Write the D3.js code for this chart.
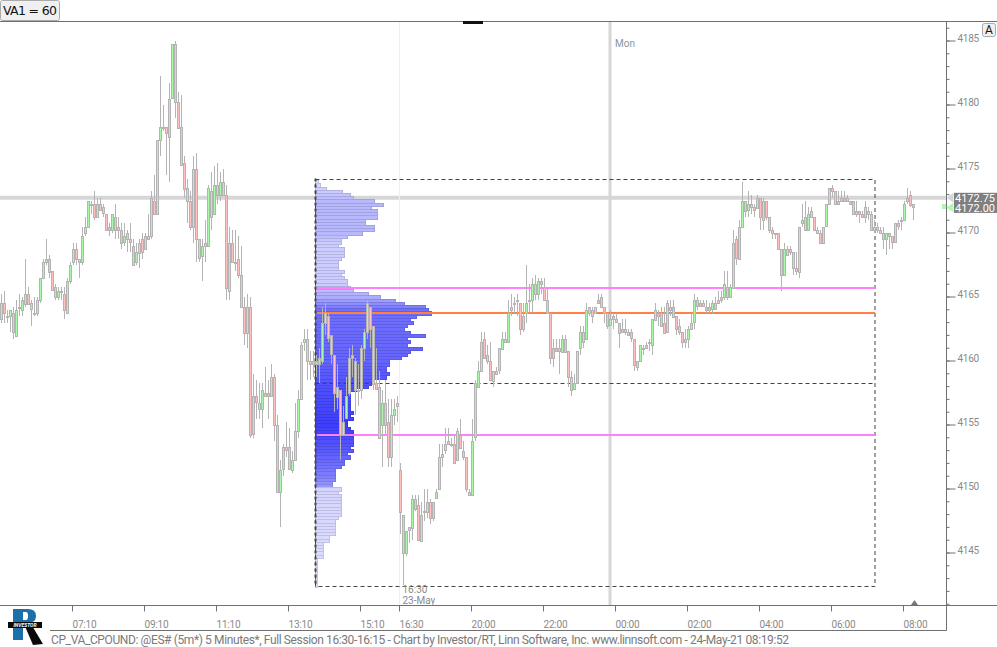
<!DOCTYPE html>
<html>
<head>
<meta charset="utf-8">
<title>CP_VA_CPOUND</title>
<script src="https://cdn.jsdelivr.net/npm/d3@7"></script>
<style>
  html, body { margin: 0; padding: 0; background: #fff; overflow: hidden; }
  text { font-family: Roboto, "Liberation Sans", sans-serif; }
</style>
</head>
<body>
<div id="chart"></div>
<script>
// 5 minute candles: [open, high, low, close]
const bars0510 = [
  [4163.25,4165.25,4163,4164.5],[4164.5,4165.5,4163,4163.75],[4163.5,4164,4163,4163.5],[4163.5,4164,4162.25,4164],
  [4163.75,4164.25,4161.75,4162.25],[4162,4164.75,4162,4164],[4164.25,4165.25,4163.5,4164.25],[4164,4165,4163.5,4164.75],
  [4164.5,4168,4164.25,4165.25],[4165.25,4165.75,4164.5,4164.5],[4164.5,4164.75,4162.75,4164],[4163.75,4165,4163.5,4163.75],
  [4163.75,4165,4163.5,4164.75],[4164.75,4166.5,4164.5,4166.5],[4166.5,4168,4166.5,4167.75],[4167.75,4169.5,4167.5,4168],
  [4168,4168.25,4166.5,4167],[4167,4167,4165.5,4165.5],[4165.75,4166,4164.75,4165],[4165,4165.75,4164.75,4165.5],
  [4165.5,4165.75,4164.75,4165.5],[4165.25,4165.75,4163.25,4164],[4163.75,4166.5,4163.75,4166.25],[4166.25,4167.75,4166,4167.5]
]
const bars0710 = [
  [4167.75,4169.25,4167.5,4168.75],[4168.75,4169.25,4167.5,4168],[4168,4168,4166.5,4167.75],[4167.75,4170.5,4167.5,4169.75],
  [4170,4171.25,4169.75,4170.5],[4170.5,4172.5,4170.5,4172.5],[4172.25,4172.5,4171.5,4172.25],[4172.25,4173.25,4171,4171.25],
  [4171.25,4172.75,4171.25,4172.25],[4172.25,4172.75,4171.75,4171.75],[4172,4172.25,4171.25,4171.5],[4171.5,4171.5,4170.25,4170.25],
  [4170.5,4170.75,4169.75,4170.25],[4170.25,4171.5,4170,4171.5],[4171.25,4172.25,4169.5,4170.25],[4170.5,4171.25,4169.5,4170.25],
  [4170.25,4170.75,4168.75,4169.25],[4169.25,4170.75,4169,4169.75],[4170,4170.25,4168.5,4169.5],[4169.5,4170.75,4168.5,4169.25],
  [4169,4169.5,4167.5,4167.5],[4167.75,4169.25,4167.5,4168.5],[4168.5,4169.5,4167.25,4169.25],[4169.5,4170,4168,4168.5]
]
const bars0910 = [
  [4168.75,4170,4168.75,4169.75],[4169.75,4171.5,4169.5,4169.5],[4169.75,4173.25,4169.5,4172.75],[4172.5,4174.5,4171.5,4171.5],
  [4171.5,4177.25,4171.5,4177.25],[4177.25,4182.25,4176,4178.25],[4178.25,4180,4178,4178.25],[4178.25,4178.25,4174.5,4177.75],
  [4177.5,4181.75,4174,4180.5],[4180.5,4184.75,4180.5,4184.75],[4184.75,4185,4179,4180.25],[4180.25,4181,4178.25,4178.25],
  [4178.25,4180.75,4175.25,4175.25],[4175.5,4176,4172.75,4173.5],[4173.5,4174.25,4170.75,4172.5],[4172.5,4173.25,4170.25,4170.5],
  [4170.5,4176,4169.25,4175],[4175,4176.25,4167.75,4169.5],[4169.5,4169.5,4167.75,4168],[4168.25,4169.5,4166.25,4169],
  [4169.25,4171,4167.75,4169],[4169,4173.75,4169,4173.5],[4173.25,4174.75,4170.25,4171.25],[4171.5,4175.25,4171.5,4173.75]
]
const bars1110 = [
  [4173.75,4175.5,4172.25,4173],[4173,4174.75,4172.5,4174],[4173,4175,4173,4174],[4173,4173.75,4164.75,4165.75],
  [4165.5,4170.5,4164.75,4169.25],[4169.25,4170.25,4167.75,4167.75],[4167.75,4170.25,4167,4167.75],[4168,4169.75,4166.5,4166.75],
  [4166.75,4169,4164.25,4164.25],[4164.25,4165,4161.25,4162.25],[4162.25,4165.25,4161,4164.25],[4164.25,4165,4154,4154.25],
  [4154.25,4159,4154,4157.25],[4157.25,4158.5,4155.5,4156.75],[4156.75,4158.25,4155.5,4156.25],[4156.25,4158.25,4154.75,4157.75],
  [4157.5,4159.5,4157.25,4157.25],[4157.5,4158.5,4155.5,4157.25],[4157.25,4159.75,4157.25,4158.75],[4158.75,4159,4153.75,4155],
  [4155,4155.75,4149.75,4149.75],[4149.75,4152.25,4147,4151.5],[4151.5,4153.5,4151,4153.25],[4153.25,4155.25,4152.5,4153]
]
const bars1310 = [
  [4153.25,4154.75,4151.5,4151.5],[4151.5,4153,4151.25,4152.25],[4152.25,4156.75,4152.25,4154.5],[4154.5,4157.75,4154,4157],
  [4157,4161.5,4157,4161.25],[4161.5,4162.5,4160.75,4161.75],[4161.75,4162.5,4158.5,4160],[4160,4160.75,4158.5,4159.75],
  [4160,4160.75,4158.75,4159.75],[4159.75,4160.5,4158.75,4160],[4160.25,4161,4158.25,4159.75],[4160,4164.25,4159.75,4163],
  [4163,4164.5,4162,4163.75],[4163.5,4163.75,4161.5,4161.75],[4162,4162,4159.75,4160.5],[4160.5,4160.5,4156,4157.5],
  [4157.25,4159.75,4156.25,4158],[4157.75,4157.75,4152.25,4154.25],[4154.25,4156.5,4154.25,4155.25],[4155.5,4158.75,4155.5,4157.25],
  [4157.5,4161,4157.25,4160.25],[4160.5,4161.25,4158.75,4160.25],[4160,4160.25,4155.75,4157.75],[4157.75,4159.75,4156.5,4157.75]
]
const bars1510 = [
  [4157.75,4161.25,4157,4161],[4161,4162.5,4160,4162.25],[4162.25,4164.75,4161.75,4164.5],[4164.25,4164.25,4161,4162.5],
  [4162.75,4162.75,4157.75,4158.25],[4158.25,4161,4157.75,4157.75],[4158,4159.25,4154,4154],[4155,4157.75,4151.75,4156.75],
  [4156.75,4158.5,4154.25,4155],[4155.25,4157,4151.75,4152.5],[4152.5,4157,4151.75,4155.75],[4155.75,4157,4155,4156.25],
  [4156.5,4157.25,4155.25,4156.75]
]
const bars1630 = [
  [4151.5,4152,4146.5,4148.25],[4148,4148,4142.5,4145],[4145,4146.75,4144.75,4146.75],[4147,4147,4145.75,4146.75],
  [4147,4149.5,4146,4149.25],[4149.25,4149.5,4148.25,4148.5],[4148.75,4149.5,4146,4146],[4146,4149,4146,4148],
  [4148.25,4150,4147.5,4148.25],[4148.25,4150,4147.75,4149],[4149,4149.25,4147.25,4147.75],[4149,4149,4147.5,4147.75],
  [4149.25,4150,4149.25,4149.75],[4150,4153.5,4150,4152.5],[4152.75,4153.5,4151.75,4152.5],[4153,4154.75,4152.75,4153.5],
  [4153.75,4154.75,4153.5,4153.5],[4153.5,4154,4153.25,4153.5],[4153.5,4154.25,4152,4152],[4152.25,4154.75,4152.25,4154.5],
  [4154.25,4155.5,4153.25,4153.25],[4153,4153.75,4152.25,4152.5],[4152.5,4152.5,4149.75,4150],[4149.75,4150,4149.5,4149.5]
]
const bars2000 = [
  [4149.5,4155.5,4149.5,4153.75],[4154,4158.5,4153.75,4158.25],[4158,4160,4158,4159.25],[4159.25,4162.25,4159.25,4161.5],
  [4161.75,4162.25,4160.25,4160.25],[4160.5,4161.25,4159.75,4160],[4160,4161.5,4158.5,4158.5],[4158.5,4159.25,4158,4159.25],
  [4159.25,4159.5,4159,4159],[4159.25,4161,4159,4161],[4161,4162.25,4161,4161.75],[4161.5,4162.25,4161.5,4161.75],
  [4161.5,4164.75,4161.5,4163.75],[4164.25,4165.25,4163.5,4164],[4164.5,4165,4163.75,4164.5],[4164.75,4165.25,4163.5,4164.75],
  [4164.5,4164.5,4162,4162.5],[4162.5,4164.5,4162.25,4163.5],[4163.75,4167.5,4163,4164.5],[4164.75,4166,4163.75,4164.75],
  [4164.75,4166.5,4163.75,4166],[4166,4166.75,4164.75,4165.25],[4165.25,4166.5,4164.75,4166.25],[4166.25,4166.5,4165.25,4166]
]
const bars2200 = [
  [4165.75,4166.5,4164.75,4164.75],[4164.75,4165.75,4163.75,4163.75],[4163.75,4163.75,4159.75,4160.25],[4160.25,4161.75,4159.5,4161],
  [4161,4161.75,4160.75,4160.75],[4160.75,4161.75,4159,4161],[4160.75,4162,4160.75,4161.75],[4161.75,4162,4160.75,4160.75],
  [4160.75,4160.75,4158,4158.75],[4158.75,4159.25,4157.25,4157.75],[4157.75,4159,4157.75,4158.25],[4158.25,4160.75,4158.25,4160.75],
  [4161,4162.75,4160.5,4162.25],[4162.25,4162.75,4161,4161.5],[4161.75,4164.5,4161.75,4164],[4164.25,4164.25,4163.5,4163.75],
  [4164,4164.25,4163,4163.5],[4163.75,4164.25,4163.75,4164.25],[4164.75,4165.25,4164.5,4164.5],[4165,4165.25,4164.25,4164.25],
  [4164.25,4164.25,4163,4163.75],[4163.75,4163.75,4162.5,4162.75],[4162.75,4164,4162.75,4163.25],[4163.5,4163.75,4162.5,4163.25]
]
const bars0000 = [
  [4163.25,4163.75,4163,4163],[4163,4163,4161,4162.25],[4162.5,4163.25,4162.25,4162.25],[4162.5,4163.25,4162,4162.25],
  [4162.25,4162.5,4162,4162],[4162.25,4162.5,4161.5,4161.75],[4161.75,4161.75,4159.25,4159.75],[4159.5,4160,4159.25,4160],
  [4160,4161.25,4160,4161.25],[4161,4161.25,4160.5,4161],[4161.25,4161.5,4161,4161],[4161.5,4161.75,4160.75,4161.5],
  [4161.25,4163.25,4160.5,4163.25],[4163.25,4164.5,4163.25,4164],[4163.75,4164,4162.75,4163.5],[4163.75,4164.25,4162.75,4162.75],
  [4163,4164.25,4162.25,4162.25],[4162.25,4164.75,4162.25,4164.5],[4164.25,4164.75,4163.5,4164],[4164.25,4164.75,4163.5,4163.5],
  [4163.5,4163.5,4162,4162.5],[4162.75,4163.25,4162,4162.25],[4162.25,4162.25,4161,4161.5],[4161.75,4162.5,4161,4161.5]
]
const bars0200 = [
  [4161.75,4162.75,4161,4162.5],[4162.5,4163.75,4162.5,4163],[4163,4165.25,4162.5,4164.75],[4164.75,4165,4164,4164.25],
  [4164.5,4164.75,4164.25,4164.25],[4164.25,4164.75,4164.25,4164.5],[4164.25,4164.75,4163.75,4164],[4164.25,4164.5,4163.75,4164],
  [4164,4164.75,4163.75,4164.5],[4164.5,4165,4164,4164],[4164.75,4165.5,4164.5,4164.5],[4165,4165.5,4164.5,4164.75],
  [4165,4167,4164.75,4166],[4165.75,4167,4164.75,4165],[4165,4166,4165,4165.75],[4165.75,4170.25,4165.75,4169.25],
  [4169.5,4169.75,4167.5,4168],[4168,4171,4168,4170.5],[4170.5,4174,4170.5,4172.5],[4172.5,4172.5,4171.25,4171.75],
  [4171.75,4173.25,4171.25,4172.25],[4172.25,4173,4171.5,4172],[4172,4172.25,4171.25,4171.75],[4172,4173,4172,4172.75]
]
const bars0400 = [
  [4172.75,4172.75,4170.25,4171.25],[4171,4172.75,4170.25,4172.5],[4172.5,4172.5,4171,4171.25],[4171.25,4171.25,4170,4170.25],
  [4170.25,4170.5,4169.5,4170],[4170,4170,4169.5,4170],[4170,4170,4168.75,4168.75],[4168.75,4168.75,4165.5,4166.75],
  [4166.75,4169.25,4166.75,4168.75],[4168.25,4169,4168.25,4168.75],[4168.75,4169,4168.25,4168.5],[4168.5,4168.5,4166.75,4167.25],
  [4167.25,4168.5,4166.75,4167],[4167,4170.5,4166.5,4170.5],[4170.75,4172.25,4170.5,4171],[4171.25,4172.5,4170.25,4170.25],
  [4170.25,4172,4170.25,4171.5],[4171.25,4172,4171.25,4171.75],[4171.25,4171.25,4170.25,4170.25],[4170.25,4170.5,4170,4170],
  [4170,4170.25,4169.25,4169.25],[4169.25,4170.5,4169.25,4170.5],[4170.5,4172.25,4170.5,4172.25],[4172.25,4173.5,4172.25,4173.5]
]
const bars0600 = [
  [4173.5,4173.75,4172.75,4173.25],[4173.25,4173.25,4172.25,4172.25],[4172.5,4173.25,4172.25,4172.25],[4172.75,4173.25,4172.5,4172.5],
  [4172.75,4173.25,4172.5,4172.5],[4172.5,4173,4172.5,4172.75],[4172.5,4172.5,4172.25,4172.25],[4172.5,4172.5,4171.5,4171.5],
  [4171.75,4172.5,4171.25,4171.5],[4171.75,4171.75,4170.75,4171.5],[4171.5,4171.75,4171.25,4171.25],[4171.25,4172.5,4170.75,4172],
  [4171.75,4172,4171,4171.5],[4171.5,4171.75,4170.25,4170.25],[4170.25,4171,4170,4170.5],[4170.5,4170.75,4170,4170.25],
  [4170.25,4170.5,4170,4170],[4170,4170.5,4168.75,4169.5],[4169.5,4170,4168.25,4170],[4170,4170,4168.75,4169.75],
  [4169.75,4169.75,4168.75,4169.25],[4169.25,4170.75,4169.25,4170.75],[4170.75,4171,4170.25,4170.5],[4171,4171.25,4170.25,4171]
]
const bars0800 = [
  [4171,4172.5,4171,4172.25],[4172.75,4173.5,4172.25,4172.5],[4173,4173.25,4172,4172.25],[4172.25,4172.25,4171,4172]
]

// time axis: bar number of each tick and what it says
const tickBars = [24, 48, 72, 96, 120, 133, 157, 181, 205, 229, 253, 277, 301]
const tickLabels = ["07:10", "09:10", "11:10", "13:10", "15:10", "16:30", "20:00", "22:00", "00:00", "02:00", "04:00", "06:00", "08:00"]

// price axis
const majorPrices = [4185, 4180, 4175, 4170, 4165, 4160, 4155, 4150, 4145]
const minorPrices = d3.range(4141, 4187)

// volume profile, top row first, one row per 0.25 point
const profileTop = 4174
const profileVolume = [
  3,5,11,27,35,38,59,68,56,62,62,62,50,50,59,59,47,32,26,26,
  23,29,29,29,26,23,23,23,29,26,29,32,32,35,38,53,65,80,89,110,
  113,116,101,95,98,92,89,95,110,92,95,92,107,95,92,86,74,74,71,71,
  74,71,59,56,53,41,35,35,35,35,35,35,38,35,38,32,32,35,38,38,
  38,38,38,35,38,32,35,29,29,26,20,20,20,20,17,17,26,23,26,26,
  26,26,26,26,26,23,20,20,20,20,20,14,14,8,8,8,8,8,2,2,
  2,2,2,2,2,2,2
]
const shadePrices = [4174, 4172.5, 4170, 4169.25, 4166, 4165, 4164, 4160, 4158, 4155, 4153, 4151, 4150.25, 4150, 4142.5]
const shadeColors = ["#dcdcff", "#b8b8ff", "#b8b8ff", "#ccccff", "#ccccff", "#acacff", "#7070ff", "#6464ff", "#5050ff", "#3e3eff", "#5a5aff", "#8080ff", "#9898ff", "#d4d4ff", "#e0e0ff"]

// study levels
const pocPrice = 4163.75
const vaHigh = 4165.7
const vaLow = 4154.25
const boxTop = 4174.25
const boxBottom = 4142.4
const boxMid = 4158.25
const boxStartBar = 105
const boxEndBar = 291.5
const lastPrices = [4172.75, 4172.00]

const bars = d3.merge([bars0510, bars0710, bars0910, bars1110, bars1310, bars1510, bars1630, bars2000, bars2200, bars0000, bars0200, bars0400, bars0600, bars0800])
  .map((d, i) => ({ i, open: d[0], high: d[1], low: d[2], close: d[3] }))

const width = 997
const height = 647
const plot = { left: 0, right: 946.5, top: 21.5, bottom: 605.5, footer: 630.5 }

const svg = d3.select("#chart").append("svg")
  .attr("width", width)
  .attr("height", height)
  .attr("viewBox", [0, 0, width, height])
  .style("display", "block")

// 1. Scales
const x = d3.scaleLinear().domain([0, 304]).range([1.5, 913.5])
const xTicks = x.copy().range([0.5, 912.5])
const y = d3.scaleLinear().domain([4185, 4145]).range([41, 553])
const vol = d3.scaleLinear().domain([0, 116]).range([0, 116])
const shade = d3.scaleLinear().domain(shadePrices).range(shadeColors)
const snap = v => Math.round(v) + 0.5

// 2. Background lines
const mondayX = x(203) - 0.5
const sessionX = xTicks(133)

svg.append("line").attr("x1", 0).attr("x2", plot.right).attr("y1", y(lastPrices[0])).attr("y2", y(lastPrices[0]))
  .attr("stroke", "#d6d6d6").attr("stroke-width", 4)
svg.append("line").attr("x1", sessionX).attr("x2", sessionX).attr("y1", plot.top).attr("y2", plot.bottom)
  .attr("stroke", "#eeeeee")
svg.append("line").attr("x1", mondayX).attr("x2", mondayX).attr("y1", plot.top).attr("y2", plot.bottom)
  .attr("stroke", "#d6d6d6").attr("stroke-width", 3)

// 3. Volume profile
const boxLeft = xTicks(boxStartBar)
const boxRight = xTicks(boxEndBar)

svg.append("g").selectAll("rect")
  .data(profileVolume)
  .join("rect")
  .attr("x", boxLeft)
  .attr("y", (d, i) => snap(y(profileTop - i * 0.25 + 0.125)))
  .attr("width", d => vol(d))
  .attr("height", (d, i) => snap(y(profileTop - i * 0.25 - 0.125)) - snap(y(profileTop - i * 0.25 + 0.125)))
  .attr("fill", (d, i) => shade(profileTop - i * 0.25))
  .attr("stroke", (d, i) => d3.rgb(shade(profileTop - i * 0.25)).darker(0.35))

// 4. Value area box and levels
const dash = "4,3"
svg.append("rect")
  .attr("x", boxLeft).attr("y", snap(y(boxTop)))
  .attr("width", boxRight - boxLeft).attr("height", snap(y(boxBottom)) - snap(y(boxTop)))
  .attr("fill", "none").attr("stroke", "#444").attr("stroke-dasharray", dash)
svg.append("line").attr("x1", boxLeft).attr("x2", boxLeft).attr("y1", y(boxTop)).attr("y2", y(boxBottom))
  .attr("stroke", "#444").attr("stroke-width", 2).attr("stroke-dasharray", "3,3")
svg.append("line").attr("x1", boxLeft).attr("x2", boxRight).attr("y1", snap(y(boxMid))).attr("y2", snap(y(boxMid)))
  .attr("stroke", "#444").attr("stroke-dasharray", dash)

const levels = [
  { price: vaHigh, color: "#ff80ff" },
  { price: vaLow, color: "#ff80ff" },
  { price: pocPrice, color: "#ff8040" }
]
svg.append("g").selectAll("line")
  .data(levels)
  .join("line")
  .attr("x1", boxLeft + 1.5)
  .attr("x2", boxRight)
  .attr("y1", d => Math.round(y(d.price)))
  .attr("y2", d => Math.round(y(d.price)))
  .attr("stroke", d => d.color)
  .attr("stroke-width", 2)

// 5. Candles
const candle = svg.append("g").selectAll("g")
  .data(bars)
  .join("g")

candle.append("line")
  .attr("x1", d => x(d.i))
  .attr("x2", d => x(d.i))
  .attr("y1", d => Math.round(y(d.high)))
  .attr("y2", d => Math.round(y(d.low)))
  .attr("stroke", "#b4b4b4")

candle.append("rect")
  .attr("x", d => x(d.i) - 1)
  .attr("y", d => snap(y(Math.max(d.open, d.close))))
  .attr("width", 2)
  .attr("height", d => Math.max(1, Math.round(Math.abs(y(d.open) - y(d.close)))))
  .attr("fill", d => d.close > d.open ? "#a8f8a8" : d.close < d.open ? "#ffc0c0" : "#e0e0e0")
  .attr("stroke", "#b4b4b4")

// 6. Axes
const axisColor = "#707070"
const textColor = "#8a8a8a"

const xAxis = d3.axisBottom(xTicks)
  .tickValues(tickBars)
  .tickFormat((d, i) => tickLabels[i])
  .tickSize(6)
  .tickPadding(0)
  .offset(0)

const xAxisG = svg.append("g")
  .attr("transform", `translate(0,${plot.bottom})`)
  .call(xAxis)
xAxisG.select(".domain").remove()
xAxisG.selectAll("line").attr("stroke", axisColor)
xAxisG.selectAll("text")
  .attr("y", 22)
  .attr("dy", 0)
  .attr("text-anchor", "start")
  .attr("fill", textColor)
  .attr("font-size", 10)
  .attr("letter-spacing", -0.2)
  .style("font-family", "Roboto")

const yMinor = d3.axisRight(y).tickValues(minorPrices).tickSize(3).tickFormat("").offset(0)
const yMinorG = svg.append("g").attr("transform", `translate(${plot.right},0)`).call(yMinor)
yMinorG.select(".domain").remove()
yMinorG.selectAll("line").attr("stroke", axisColor)

const yMajor = d3.axisRight(y).tickValues(majorPrices).tickSize(9).tickPadding(2).tickFormat(d3.format("d")).offset(0)
const yMajorG = svg.append("g").attr("transform", `translate(${plot.right},0)`).call(yMajor)
yMajorG.select(".domain").remove()
yMajorG.selectAll("line").attr("stroke", axisColor)
yMajorG.selectAll("text")
  .attr("dy", "0.05em")
  .attr("x", 11)
  .attr("fill", textColor)
  .attr("font-size", 10)
  .attr("letter-spacing", -0.3)
  .style("font-family", "Roboto")

// frame
const frame = [
  [0, width, plot.top, plot.top],
  [0, width, plot.bottom, plot.bottom],
  [50, plot.right, plot.footer, plot.footer],
  [plot.right, plot.right, plot.top, plot.footer]
]
svg.append("g").selectAll("line")
  .data(frame)
  .join("line")
  .attr("x1", d => d[0]).attr("x2", d => d[1])
  .attr("y1", d => d[2]).attr("y2", d => d[3])
  .attr("stroke", axisColor)

// 7. Last price tags
const tags = svg.append("g").selectAll("g")
  .data(lastPrices)
  .join("g")
  .attr("transform", d => `translate(${plot.right},${y(d)})`)

tags.append("path")
  .attr("d", "M0,0 L7,-5 L7,5 Z")
  .attr("fill", (d, i) => i === 0 ? "#d6d6d6" : "#b0f8b0")
tags.append("rect")
  .attr("x", 7.5).attr("y", -5)
  .attr("width", 43).attr("height", 10.5)
  .attr("fill", "#7f7f7f")
tags.append("text")
  .attr("x", 8.5).attr("y", 4.5)
  .attr("fill", "#fff")
  .attr("font-size", 11)
  .text(d => d3.format(".2f")(d))

svg.append("rect").attr("x", 942).attr("y", 204).attr("width", 4).attr("height", 5).attr("fill", "#b0f8b0")

// 8. Notes and small markers
svg.append("text").attr("x", 615).attr("y", 47).attr("fill", "#8a95a0").attr("font-size", 10).text("Mon")
svg.append("text").attr("x", 402.5).attr("y", 592.5).attr("fill", textColor).attr("font-size", 10).text("16:30")
svg.append("text").attr("x", 402.5).attr("y", 604).attr("fill", textColor).attr("font-size", 10).text("23-May")
svg.append("rect").attr("x", 463).attr("y", 21).attr("width", 20).attr("height", 3).attr("fill", "#111")
svg.append("path").attr("d", "M911,605 L914.5,600 L918,605 Z").attr("fill", "#777")

// VA1 button
svg.append("rect").attr("x", 0.5).attr("y", 0.5).attr("width", 59).attr("height", 20).attr("rx", 2)
  .attr("fill", "#f0f0f0").attr("stroke", "#aaa")
svg.append("text").attr("x", 3).attr("y", 15).attr("fill", "#111").attr("font-size", 12.5)
  .style("font-family", "DejaVu Sans").attr("textLength", 54).text("VA1 = 60")

// A button
svg.append("rect").attr("x", 982.5).attr("y", 23.5).attr("width", 13).attr("height", 13).attr("rx", 2)
  .attr("fill", "#f0f0f0").attr("stroke", "#aaa")
svg.append("text").attr("x", 989).attr("y", 34).attr("text-anchor", "middle").attr("fill", "#111")
  .attr("font-size", 12).text("A")

// footer
svg.append("text").attr("x", 51).attr("y", 644).attr("fill", "#7a7a7a").attr("font-size", 12)
  .attr("textLength", 738)
  .text("CP_VA_CPOUND: @ES# (5m*) 5 Minutes*, Full Session 16:30-16:15 - Chart by Investor/RT, Linn Software, Inc. www.linnsoft.com - 24-May-21 08:19:52")

// logo
const logo = svg.append("g")
logo.append("path")
  .attr("d", "M13,609 L28,609 Q36,609 36,616 Q36,623 28,623 L23,623 L23,640 L13,640 Z M23,612 L23,620 L26,620 Q28,620 28,616 Q28,612 26,612 Z")
  .attr("fill", "#1c6fa8")
  .attr("fill-rule", "evenodd")
logo.append("path").attr("d", "M24,624 L31,624 L43,644 L33,645 Z").attr("fill", "#0a0a0a")
logo.append("rect").attr("x", 8).attr("y", 622).attr("width", 34).attr("height", 6).attr("fill", "#0a0a0a")
logo.append("text").attr("x", 25).attr("y", 627).attr("text-anchor", "middle").attr("fill", "#fff").attr("font-size", 5)
  .attr("font-weight", "bold").attr("font-style", "italic").text("INVESTOR")
</script>
</body>
</html>
